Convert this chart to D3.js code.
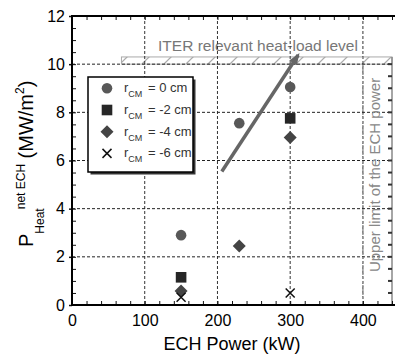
<!DOCTYPE html>
<html>
<head>
<meta charset="utf-8">
<script src="https://cdn.jsdelivr.net/npm/d3@7"></script>
<style>
  body { margin: 0; background: #fff; }
  svg { font-family: "Liberation Sans", Arial, sans-serif; }
</style>
</head>
<body>
<div id="chart"></div>
<script>
// data (ECH power in kW, heat load in MW/m2)
var seriesNames = ["0", "-2", "-4", "-6"];
var power0 = [150, 230, 300];
var heat0 = [2.9, 7.55, 9.05];
var power2 = [150, 300];
var heat2 = [1.15, 7.75];
var power4 = [150, 230, 300];
var heat4 = [0.58, 2.45, 6.95];
var power6 = [150, 300];
var heat6 = [0.32, 0.5];
var xTicks = [0, 100, 200, 300, 400];
var yTicks = [0, 2, 4, 6, 8, 10, 12];
var iterLevel = [10, 10.3];
var iterFrom = 68;
var echLimit = 400;
var arrowFrom = [206, 5.54];
var arrowTo = [311, 10.38];

var margin = {top: 16, left: 72},
    width = 320,
    height = 289;

var x = d3.scaleLinear().domain([0, 440]).range([0, width]);
var y = d3.scaleLinear().domain([0, 12]).range([height, 0]);

var svg = d3.select("#chart").append("svg")
    .attr("width", 395)
    .attr("height", 354);

var defs = svg.append("defs");
defs.append("pattern")
    .attr("id", "hatch")
    .attr("patternUnits", "userSpaceOnUse")
    .attr("width", 22).attr("height", 8)
  .append("path")
    .attr("d", "M4,8L12,0")
    .attr("stroke", "#aaa")
    .attr("stroke-width", 1.2);
defs.append("marker")
    .attr("id", "head")
    .attr("viewBox", "0 0 10 10")
    .attr("refX", 8).attr("refY", 5)
    .attr("markerWidth", 3.4).attr("markerHeight", 2.6)
    .attr("markerUnits", "strokeWidth")
    .attr("orient", "auto")
    .attr("preserveAspectRatio", "none")
  .append("path")
    .attr("d", "M0,0L10,5L0,10z")
    .attr("fill", "#666");

var g = svg.append("g")
    .attr("transform", "translate(" + margin.left + "," + margin.top + ")");

// ITER band
g.append("rect")
    .attr("x", x(iterFrom))
    .attr("y", y(iterLevel[1]))
    .attr("width", width - x(iterFrom))
    .attr("height", y(iterLevel[0]) - y(iterLevel[1]))
    .attr("fill", "url(#hatch)")
    .attr("stroke", "#aaa")
    .attr("stroke-width", 1);

g.append("text")
    .attr("x", 258 - margin.left)
    .attr("y", y(iterLevel[1]) - 6)
    .attr("text-anchor", "middle")
    .attr("font-size", 15.5)
    .attr("fill", "#777")
    .text("ITER relevant heat-load level");

// grid
g.selectAll(".vgrid")
    .data(xTicks.slice(1))
  .enter().append("line")
    .attr("class", "vgrid")
    .attr("x1", function(d) { return x(d); })
    .attr("x2", function(d) { return x(d); })
    .attr("y1", 0).attr("y2", height)
    .attr("stroke", "#333")
    .attr("stroke-width", 1)
    .attr("stroke-dasharray", "3,2");

g.selectAll(".hgrid")
    .data(yTicks.slice(1, -1))
  .enter().append("line")
    .attr("class", "hgrid")
    .attr("x1", 0).attr("x2", width)
    .attr("y1", function(d) { return y(d); })
    .attr("y2", function(d) { return y(d); })
    .attr("stroke", "#222")
    .attr("stroke-width", 1)
    .attr("stroke-dasharray", "3,2");

// upper limit of ECH power
g.append("line")
    .attr("x1", x(echLimit)).attr("x2", x(echLimit))
    .attr("y1", y(iterLevel[1])).attr("y2", height)
    .attr("stroke", "#999")
    .attr("stroke-width", 1.5)
    .attr("stroke-dasharray", "2,2");
g.append("text")
    .attr("transform", "translate(" + (x(echLimit) + 17) + "," + y(5.4) + ") rotate(-90)")
    .attr("text-anchor", "middle")
    .attr("font-size", 15)
    .attr("fill", "#888")
    .text("Upper limit of the ECH power");

// right edge with ticks
g.append("line")
    .attr("x1", width).attr("x2", width)
    .attr("y1", y(iterLevel[1])).attr("y2", height)
    .attr("stroke", "#888")
    .attr("stroke-width", 1.5);
g.selectAll(".rtick")
    .data(d3.range(0.5, 10.01, 0.5))
  .enter().append("line")
    .attr("class", "rtick")
    .attr("x1", width - 4).attr("x2", width)
    .attr("y1", function(d) { return y(d); })
    .attr("y2", function(d) { return y(d); })
    .attr("stroke", "#333")
    .attr("stroke-width", 2);

// axes
var minorX = d3.range(0, 441, 20);
var minorY = d3.range(0, 12.01, 0.5);

g.append("g")
    .attr("transform", "translate(0," + height + ")")
    .call(d3.axisBottom(x).tickValues(minorX).tickSize(-4).tickFormat(""))
    .call(function(s) { s.select(".domain").remove(); });
g.append("g")
    .call(d3.axisTop(x).tickValues(minorX).tickSize(-4).tickFormat(""))
    .call(function(s) { s.select(".domain").remove(); });
g.append("g")
    .call(d3.axisLeft(y).tickValues(minorY).tickSize(-4).tickFormat(""))
    .call(function(s) { s.select(".domain").remove(); });

var xAxis = g.append("g")
    .attr("transform", "translate(0," + height + ")")
    .call(d3.axisBottom(x).tickValues(xTicks).tickSize(0).tickPadding(10));
xAxis.select(".domain").remove();
xAxis.selectAll("text").attr("font-size", 16).attr("font-family", "Liberation Sans, Arial").attr("fill", "#000");

var yAxis = g.append("g")
    .call(d3.axisLeft(y).tickValues(yTicks).tickSize(3).tickPadding(4));
yAxis.select(".domain").remove();
yAxis.selectAll("text").attr("font-size", 16).attr("font-family", "Liberation Sans, Arial").attr("fill", "#000");
yAxis.selectAll("line").attr("stroke-width", 1.5);
g.selectAll(".tick line").attr("stroke", "#111");

g.append("path")
    .attr("d", "M" + (width + 3) + ",0H0V" + height + "H" + (width + 3))
    .attr("fill", "none")
    .attr("stroke", "#000")
    .attr("stroke-width", 2);

// arrow
g.append("line")
    .attr("x1", x(arrowFrom[0])).attr("y1", y(arrowFrom[1]))
    .attr("x2", x(arrowTo[0])).attr("y2", y(arrowTo[1]))
    .attr("stroke", "#666")
    .attr("stroke-width", 3.5)
    .attr("marker-end", "url(#head)");

// markers
function drawSeries(xs, ys, kind) {
  var pts = xs.map(function(d, i) { return [x(d), y(ys[i])]; });
  var sel = g.selectAll(".pt-" + kind).data(pts).enter().append("g")
      .attr("class", "pt-" + kind)
      .attr("transform", function(d) { return "translate(" + d[0] + "," + d[1] + ")"; });
  addMarker(sel, kind);
}

function addMarker(sel, kind) {
  if (kind == 0) {
    sel.append("circle").attr("r", 5.3).attr("fill", "#585858");
  } else if (kind == 1) {
    sel.append("rect").attr("x", -5.3).attr("y", -5.3).attr("width", 10.6).attr("height", 10.6).attr("fill", "#262626");
  } else if (kind == 2) {
    sel.append("path").attr("d", "M0,-6.5L6.5,0L0,6.5L-6.5,0Z").attr("fill", "#444");
  } else {
    sel.append("path").attr("d", "M-4.5,-4.5L4.5,4.5M-4.5,4.5L4.5,-4.5").attr("stroke", "#111").attr("stroke-width", 1.5);
  }
}

drawSeries(power0, heat0, 0);
drawSeries(power2, heat2, 1);
drawSeries(power4, heat4, 2);
drawSeries(power6, heat6, 3);

// legend
var lg = svg.append("g").attr("transform", "translate(88,77)");
lg.append("rect").attr("x", 2.5).attr("y", 2.5).attr("width", 105).attr("height", 95).attr("fill", "#333");
lg.append("rect").attr("width", 105).attr("height", 95).attr("fill", "#fff").attr("stroke", "#000").attr("stroke-width", 1.5);

var rows = lg.selectAll(".row").data(seriesNames).enter().append("g")
    .attr("class", "row")
    .attr("transform", function(d, i) { return "translate(0," + (11.3 + i * 21.7) + ")"; });
rows.each(function(d, i) {
  addMarker(d3.select(this).append("g").attr("transform", "translate(19,0)"), i);
});
var lt = rows.append("text")
    .attr("x", 36)
    .attr("y", 4)
    .attr("font-size", 13)
    .attr("fill", "#333");
lt.append("tspan").text("r");
lt.append("tspan").attr("font-size", 9).attr("dy", 5).text("CM");
lt.append("tspan").attr("dy", -5).attr("dx", 2).text(function(d) { return " = " + d + " cm"; });

// axis titles
svg.append("text")
    .attr("x", 232)
    .attr("y", 350)
    .attr("text-anchor", "middle")
    .attr("font-size", 18)
    .text("ECH Power (kW)");

var yt = svg.append("text")
    .attr("transform", "translate(33,247) rotate(-90)")
    .attr("font-size", 20);
yt.append("tspan").text("P");
yt.append("tspan").attr("font-size", 12).attr("dy", 11).text("Heat");
yt.append("tspan").attr("font-size", 12).attr("dy", -19).attr("dx", -1).text("net ECH");
yt.append("tspan").attr("dy", 8).text(" (MW/m");
yt.append("tspan").attr("font-size", 12).attr("dy", -9).text("2");
yt.append("tspan").attr("dy", 9).text(")");
</script>
</body>
</html>
